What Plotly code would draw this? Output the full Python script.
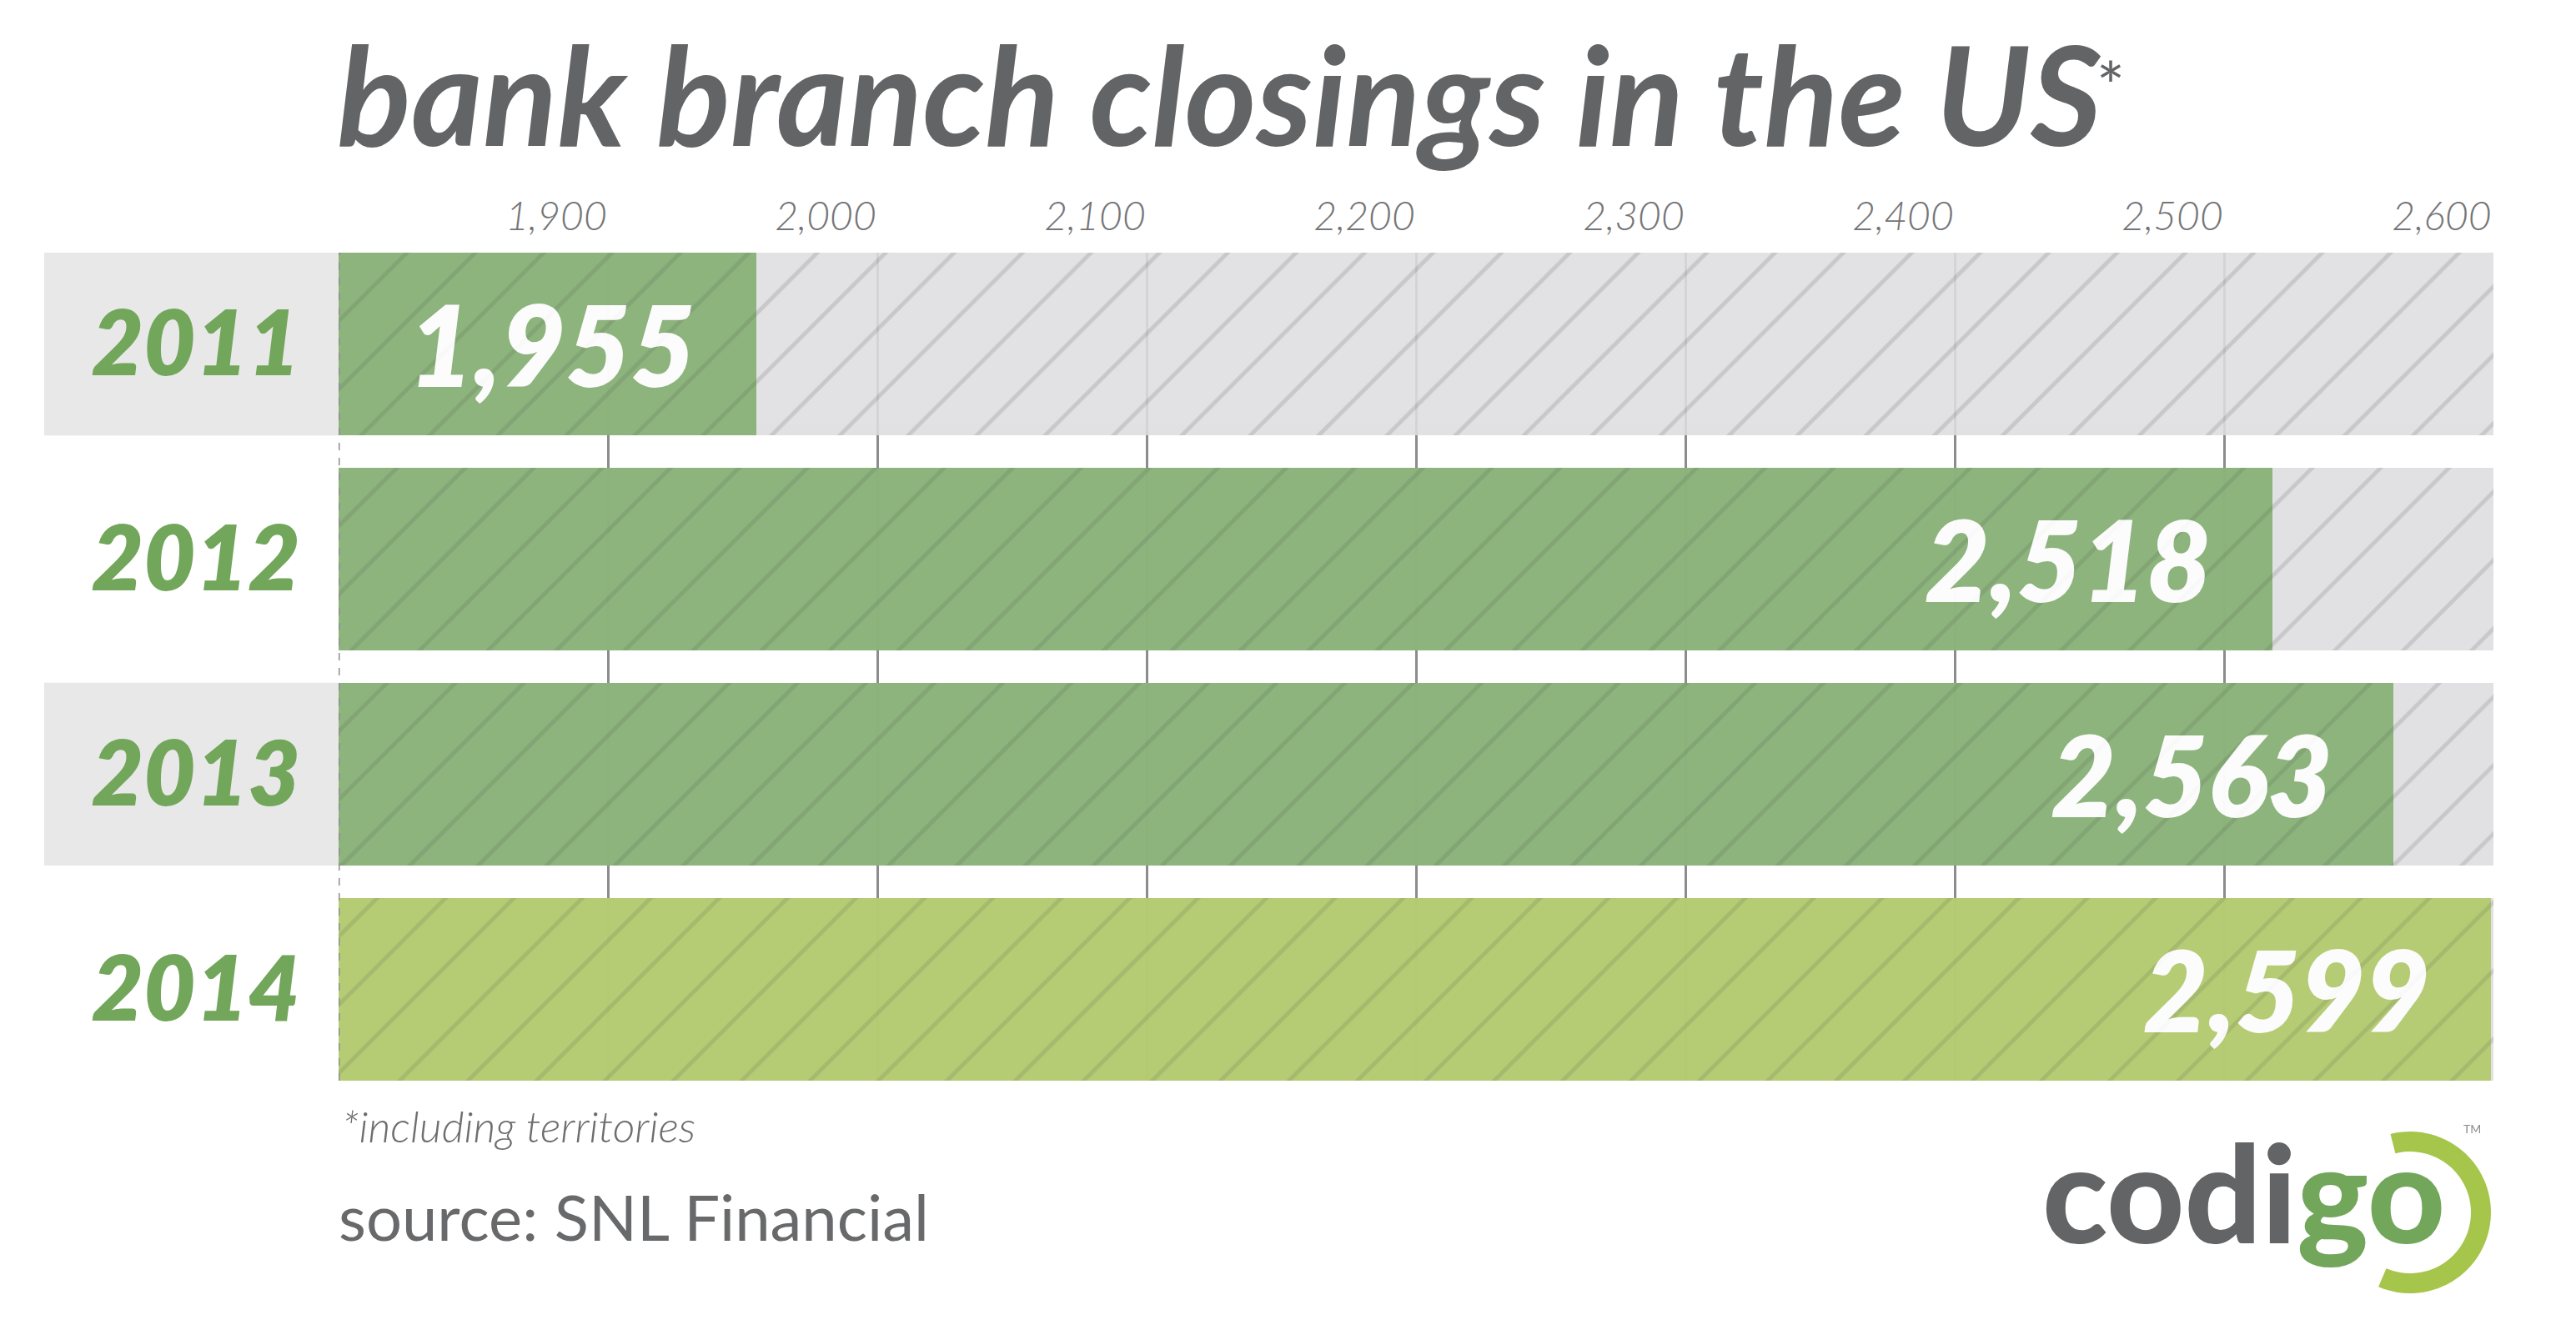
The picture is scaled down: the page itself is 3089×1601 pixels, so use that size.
import math
import plotly.graph_objects as go

# ---------------- data ----------------
years = ["2011", "2012", "2013", "2014"]
closings = [1955, 2518, 2563, 2599]
tick_values = [1900, 2000, 2100, 2200, 2300, 2400, 2500, 2600]
tick_labels = ["1,900", "2,000", "2,100", "2,200", "2,300", "2,400", "2,500", "2,600"]
axis_min = 1800
axis_max = 2600

title_text = "bank branch closings in the US"
footnote_text = "*including territories"
source_text = "source: SNL Financial"

# ---------------- layout geometry / styles ----------------
W, H = 3089, 1601
L, R, T, B = 398, 107, 295, 313
PW, PH = W - L - R, H - T - B
BAR_W = 0.85
FONT = "Lato"
GRAY_TXT = "#636466"
GREEN_TXT = "#72a65a"

bar_colors = ["rgb(129,173,110)", "rgb(129,173,110)", "rgb(129,173,110)", "rgb(175,201,101)"]
TRACK = "rgb(222,222,224)"
TRACK_LINE = "rgb(164,164,166)"
OPAC = 0.88
PAT_SIZE = 58
PAT_SOLID = 0.085
NBSP = "\u00a0"


def px_x(px):
    return (px - L) / PW


def px_y(py):
    return (H - B - py) / PH


fig = go.Figure()

# background track (full axis range)
fig.add_trace(go.Bar(
    y=years, x=[axis_max - axis_min] * len(years), base=axis_min,
    orientation="h", width=BAR_W, opacity=OPAC, hoverinfo="skip",
    marker=dict(color=TRACK, line_width=0,
                pattern=dict(shape="/", bgcolor=TRACK, fgcolor=TRACK_LINE,
                             size=PAT_SIZE, solidity=PAT_SOLID)),
))

# value bars
fig.add_trace(go.Bar(
    y=years, x=[v - axis_min for v in closings], base=axis_min,
    orientation="h", width=BAR_W, opacity=OPAC,
    text=[f"{v:,}" for v in closings],
    texttemplate="%{text}" + NBSP + NBSP + "\u2009",
    textposition="inside", insidetextanchor="end", textangle=0, constraintext="none",
    insidetextfont=dict(family=FONT, size=134, color="#ffffff", weight=800, style="italic"),
    marker=dict(color=bar_colors, line_width=0,
                pattern=dict(shape="/", bgcolor=bar_colors, fgcolor="#000000", fgopacity=0.13,
                             size=PAT_SIZE, solidity=PAT_SOLID)),
    hovertemplate="%{y}: %{text}<extra></extra>",
))

annotations = []
# title
annotations.append(dict(
    x=px_x(394), y=px_y(103), xref="paper", yref="paper",
    text=title_text, showarrow=False, xanchor="left", yanchor="middle",
    font=dict(family=FONT, size=165, color=GRAY_TXT, weight=700, style="italic"),
))
annotations.append(dict(
    x=px_x(2523), y=px_y(93), xref="paper", yref="paper",
    text="*", showarrow=False, xanchor="center", yanchor="middle",
    font=dict(family=FONT, size=80, color=GRAY_TXT, weight=400),
))
# footnote
annotations.append(dict(
    x=px_x(400), y=px_y(1342), xref="paper", yref="paper",
    text=footnote_text, showarrow=False, xanchor="left", yanchor="middle",
    font=dict(family=FONT, size=52, color="#6d6e70", weight=300, style="italic"),
))
# source
annotations.append(dict(
    x=px_x(396), y=px_y(1450), xref="paper", yref="paper",
    text=source_text, showarrow=False, xanchor="left", yanchor="middle",
    font=dict(family=FONT, size=76, color="#68696b", weight=400),
))
# logo text
annotations.append(dict(
    x=px_x(2926), y=px_y(1420), xref="paper", yref="paper",
    text="<span style='color:#636466'>codi</span><span style='color:#72a65a'>go</span>",
    showarrow=False, xanchor="right", yanchor="middle",
    font=dict(family=FONT, size=162, color="#636466", weight=900),
))
annotations.append(dict(
    x=px_x(2956), y=px_y(1345), xref="paper", yref="paper",
    text="TM", showarrow=False, xanchor="center", yanchor="middle",
    font=dict(family=FONT, size=14, color="#8a8a8a"),
))

shapes = []
# label bands on alternating rows
for i in range(0, len(years), 2):
    shapes.append(dict(
        type="rect", xref="paper", yref="y", x0=px_x(45), x1=0,
        y0=i - BAR_W / 2, y1=i + BAR_W / 2,
        fillcolor="#e8e8e8", line_width=0, layer="below",
    ))
# dashed baseline at axis start
shapes.append(dict(
    type="line", xref="x", yref="paper", x0=axis_min, x1=axis_min, y0=0, y1=1,
    line=dict(color="#8d8d8f", width=3, dash="9px,9px"), layer="above",
))
# logo arc
ro, ri = 97, 73
a0, a1 = math.radians(104), math.radians(-113)
n = 60
outer = [(ro * math.cos(a0 + (a1 - a0) * k / n), ro * math.sin(a0 + (a1 - a0) * k / n)) for k in range(n + 1)]
inner = [(ri * math.cos(a1 + (a0 - a1) * k / n), ri * math.sin(a1 + (a0 - a1) * k / n)) for k in range(n + 1)]
pts = outer + inner
path = "M " + " L ".join(f"{x:.2f},{y:.2f}" for x, y in pts) + " Z"
shapes.append(dict(
    type="path", xref="paper", yref="paper", xsizemode="pixel", ysizemode="pixel",
    xanchor=px_x(2882), yanchor=px_y(1446), path=path,
    fillcolor="#a6c54b", line_width=0, layer="above",
))

fig.update_layout(
    width=W, height=H,
    margin=dict(l=L, r=R, t=T, b=B, pad=0),
    paper_bgcolor="white", plot_bgcolor="white",
    barmode="overlay", bargap=0, showlegend=False,
    annotations=annotations, shapes=shapes,
    xaxis=dict(
        range=[axis_min, axis_max], side="top",
        tickmode="array", tickvals=tick_values, ticktext=tick_labels,
        tickfont=dict(family=FONT, size=48, color="#757577", weight=300, style="italic"),
        ticklabelshift=-62, ticklabelstandoff=16,
        showgrid=True, gridcolor="#8c8c8e", gridwidth=3,
        zeroline=False, showline=False, ticks="",
    ),
    yaxis=dict(
        type="category", categoryorder="array", categoryarray=years,
        range=[len(years) - 1 + BAR_W / 2, -BAR_W / 2],
        tickfont=dict(family=FONT, size=108, color=GREEN_TXT, weight=800, style="italic"),
        ticklabelstandoff=45,
        showgrid=False, zeroline=False, showline=False, ticks="",
    ),
)

fig.write_html("out.html")
